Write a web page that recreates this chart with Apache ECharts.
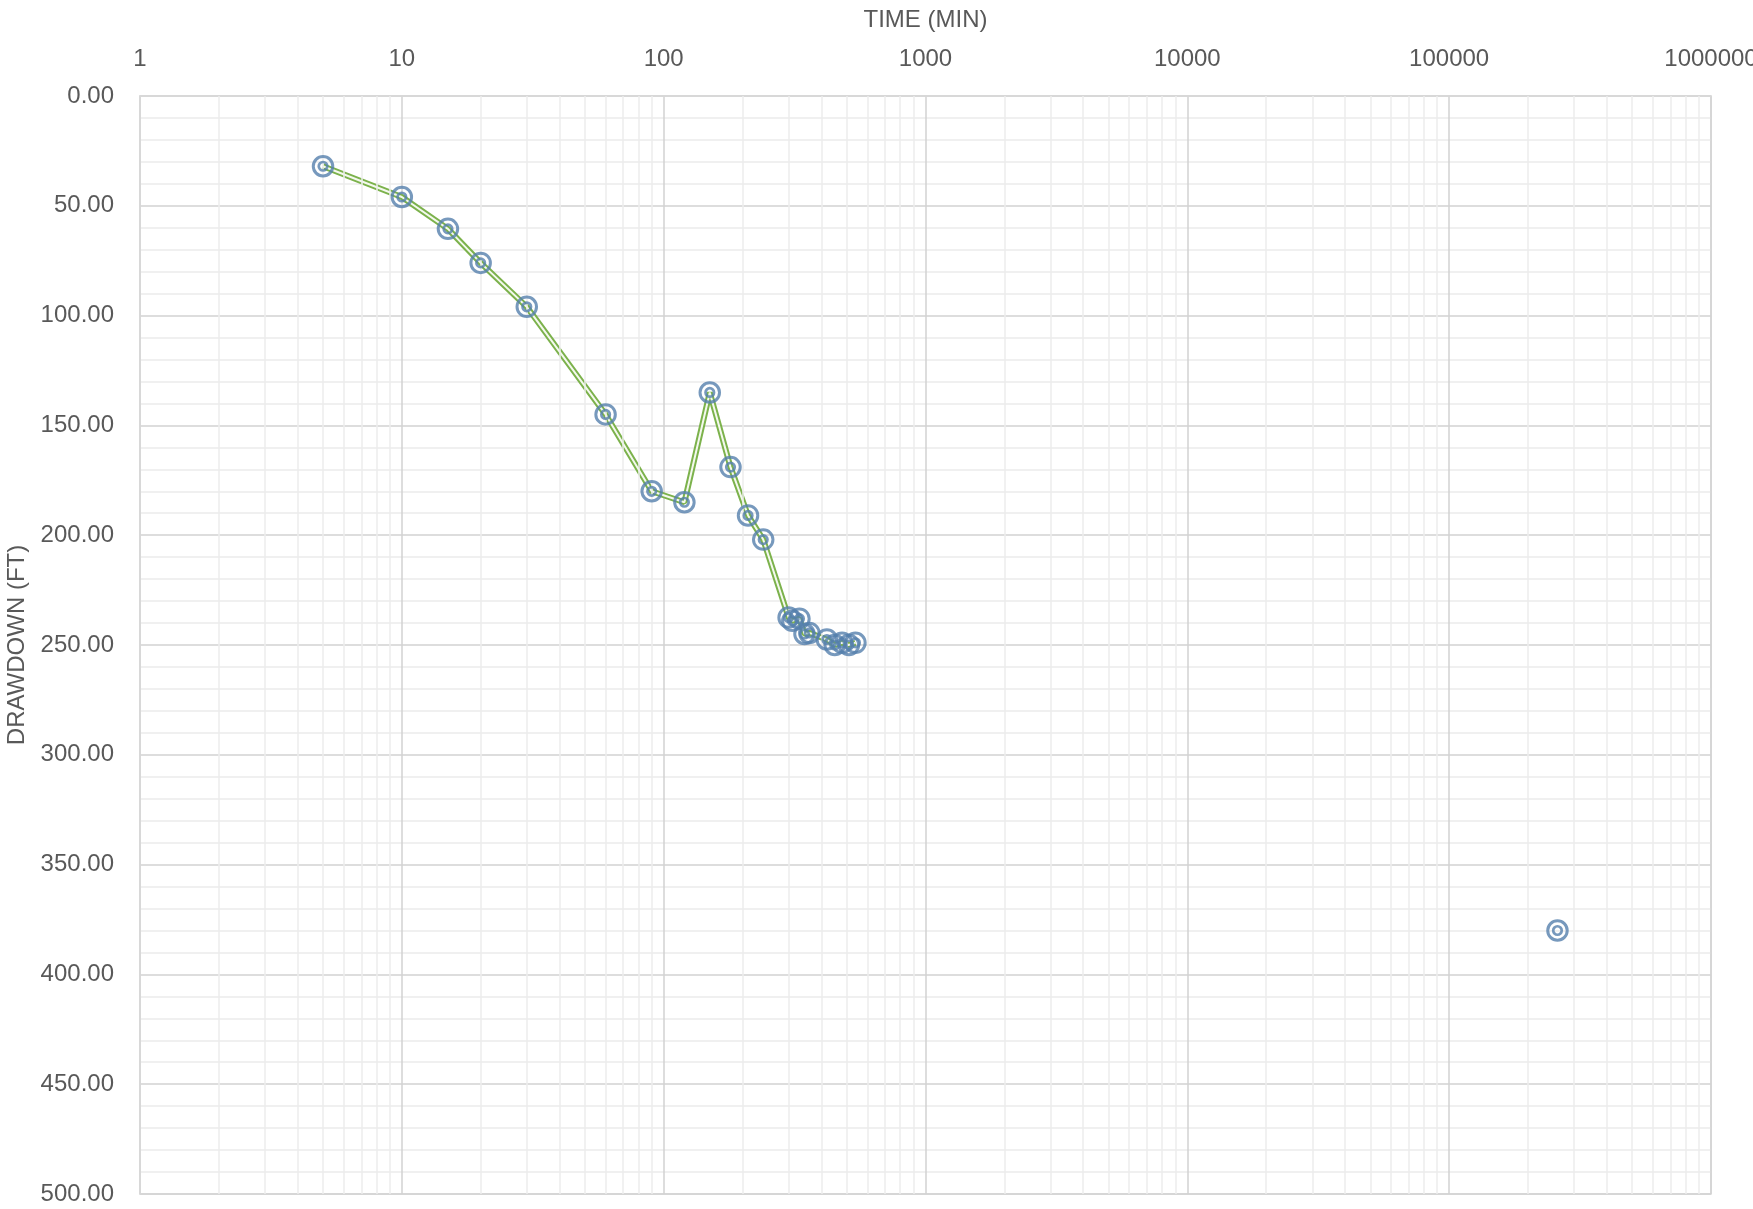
<!DOCTYPE html>
<html>
<head>
<meta charset="utf-8">
<script src="https://cdn.jsdelivr.net/npm/echarts@6/dist/echarts.min.js"></script>
<style>
html,body{margin:0;padding:0;background:#fff;}
#chart{width:1753px;height:1209px;}
</style>
</head>
<body>
<div id="chart"></div>
<script>
// Pumping test data: time (minutes) vs drawdown (feet)
const timeMin = [5, 10, 15, 20, 30, 60, 90, 120, 150, 180, 210, 240, 300, 310, 330, 345, 360, 420, 450, 480, 510, 540];
const drawdownFt = [32, 46, 60.5, 76, 96, 145, 180, 185, 135, 169, 191, 202, 237.5, 239, 238, 245, 244.5, 247.5, 250, 249, 250, 249];
const lateTimeMin = [259200];
const lateDrawdownFt = [380];
const xTickLabels = ['1', '10', '100', '1000', '10000', '100000', '1000000'];
const yTicks = [0, 50, 100, 150, 200, 250, 300, 350, 400, 450, 500];

const mainPts = timeMin.map((t, i) => [t, drawdownFt[i]]);
const latePts = lateTimeMin.map((t, i) => [t, lateDrawdownFt[i]]);
const allPts = mainPts.concat(latePts);

// minor log gridline values (2..9 within each decade)
const minorVals = [];
for (let d = 0; d < xTickLabels.length - 1; d++) {
  for (let k = 2; k <= 9; k++) minorVals.push(k * Math.pow(10, d));
}

const FONT = "'Liberation Sans', Arial, sans-serif";
const FS = 24;
const TXT = '#595959';
const markerColor = '#5580ad';
const lineGreen = '#7cb24c';

const chart = echarts.init(document.getElementById('chart'));
chart.setOption({
  animation: false,
  backgroundColor: '#ffffff',
  grid: {
    left: 140, right: 42, top: 96, bottom: 15,
    containLabel: false,
    outerBoundsMode: 'none',
    show: true, borderColor: '#d9d9d9', borderWidth: 1.5
  },
  xAxis: {
    type: 'log',
    logBase: 10,
    min: 1,
    max: 1000000,
    splitNumber: 6,
    position: 'top',
    name: 'TIME (MIN)',
    nameLocation: 'middle',
    nameGap: 64,
    nameTextStyle: { color: TXT, fontSize: FS, fontFamily: FONT },
    axisLine: { show: true, lineStyle: { color: '#d9d9d9', width: 1.5 } },
    axisTick: { show: false },
    axisLabel: {
      color: TXT, fontSize: FS, fontFamily: FONT, margin: 25,
      formatter: v => {
        const e = Math.round(Math.log10(v));
        return xTickLabels[e] !== undefined ? xTickLabels[e] : String(Math.round(v));
      }
    },
    splitLine: { show: true, lineStyle: { color: '#d2d2d2', width: 1.5 } }
  },
  yAxis: {
    type: 'value',
    inverse: true,
    min: yTicks[0],
    max: yTicks[yTicks.length - 1],
    interval: 50,
    name: 'DRAWDOWN (FT)',
    nameLocation: 'middle',
    nameGap: 111,
    nameRotate: 90,
    nameTextStyle: { color: TXT, fontSize: FS, fontFamily: FONT },
    axisLine: { show: true, lineStyle: { color: '#d9d9d9', width: 1.5 } },
    axisTick: { show: false },
    axisLabel: {
      color: TXT, fontSize: FS, fontFamily: FONT, margin: 26,
      formatter: v => v.toFixed(2)
    },
    splitLine: { show: true, lineStyle: { color: '#d2d2d2', width: 1.5 } },
    minorTick: { show: false, splitNumber: 5 },
    minorSplitLine: { show: true, lineStyle: { color: '#ececec', width: 1.5 } }
  },
  series: [
    {
      type: 'line',
      data: [],
      z: 1,
      silent: true,
      markLine: {
        silent: true,
        symbol: ['none', 'none'],
        label: { show: false },
        lineStyle: { type: 'solid', color: '#ececec', width: 1.5 },
        data: minorVals.map(v => ({ xAxis: v }))
      }
    },
    {
      type: 'line',
      data: mainPts,
      showSymbol: false,
      z: 3,
      lineStyle: { color: lineGreen, width: 6 }
    },
    {
      type: 'line',
      data: mainPts,
      showSymbol: false,
      z: 4,
      lineStyle: { color: '#f4f9ee', width: 2 }
    },
    {
      type: 'scatter',
      data: allPts,
      symbol: 'circle',
      symbolSize: 19.5,
      z: 5,
      itemStyle: { color: 'rgba(0,0,0,0)', borderColor: markerColor, borderWidth: 3 }
    },
    {
      type: 'scatter',
      data: allPts,
      symbol: 'circle',
      symbolSize: 8.5,
      z: 6,
      itemStyle: { color: 'rgba(0,0,0,0)', borderColor: markerColor, borderWidth: 2.7 }
    }
  ]
});
</script>
</body>
</html>
